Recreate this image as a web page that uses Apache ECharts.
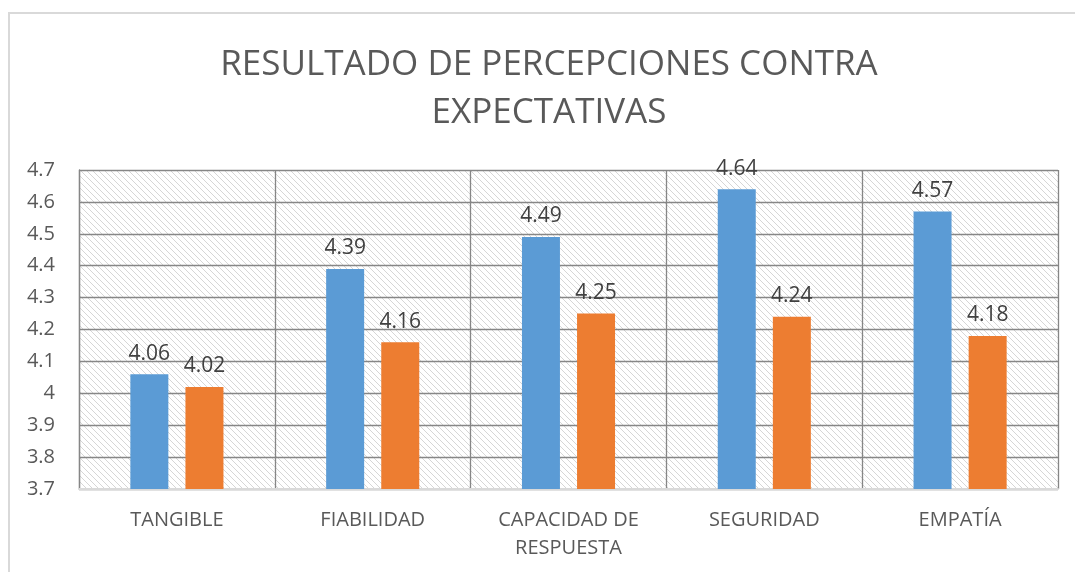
<!DOCTYPE html>
<html>
<head>
<meta charset="utf-8">
<script src="https://cdn.jsdelivr.net/npm/echarts@6/dist/echarts.min.js"></script>
<style>
  html, body { margin: 0; padding: 0; background: #fff; }
  #chart { width: 1075px; height: 572px; }
</style>
</head>
<body>
<div id="chart"></div>
<script>
  // datos
  var categorias = ['TANGIBLE', 'FIABILIDAD', 'CAPACIDAD DE\nRESPUESTA', 'SEGURIDAD', 'EMPATÍA'];
  var percepciones = [4.06, 4.39, 4.49, 4.64, 4.57];
  var expectativas = [4.02, 4.16, 4.25, 4.24, 4.18];
  var ejeY = [3.7, 3.8, 3.9, 4.0, 4.1, 4.2, 4.3, 4.4, 4.5, 4.6, 4.7];

  var fuente = '"Open Sans", "Noto Sans", sans-serif';

  // trama diagonal del fondo
  var trama = document.createElement('canvas');
  trama.width = 6; trama.height = 6;
  var ctx = trama.getContext('2d');
  ctx.fillStyle = '#ffffff';
  ctx.fillRect(0, 0, 6, 6);
  ctx.strokeStyle = '#d6d6d6';
  ctx.lineWidth = 1;
  ctx.beginPath();
  ctx.moveTo(-1, -1); ctx.lineTo(7, 7);
  ctx.moveTo(-1, 5); ctx.lineTo(1, 7);
  ctx.moveTo(5, -1); ctx.lineTo(7, 1);
  ctx.stroke();

  var myChart = echarts.init(document.getElementById('chart'));
  var etiqueta = {
    show: true,
    position: 'top',
    distance: 10,
    color: '#404040',
    fontSize: 21,
    fontFamily: fuente,
    formatter: function (p) { return p.value; }
  };
  var option = {
    backgroundColor: '#fff',
    animation: false,
    title: {
      text: 'RESULTADO DE PERCEPCIONES CONTRA\nEXPECTATIVAS',
      left: 544,
      top: 36,
      textAlign: 'center',
      textStyle: {
        color: '#595959',
        fontSize: 35,
        fontWeight: 'normal',
        fontFamily: fuente,
        lineHeight: 48
      }
    },
    graphic: [{
      type: 'rect',
      shape: { x: 9, y: 13, width: 1100, height: 600 },
      style: { fill: 'none', stroke: '#d9d9d9', lineWidth: 2 },
      silent: true
    }],
    grid: {
      left: 79,
      right: 17,
      top: 170,
      bottom: 83,
      show: true,
      backgroundColor: { image: trama, repeat: 'repeat' },
      borderColor: '#868686',
      borderWidth: 0
    },
    xAxis: {
      type: 'category',
      data: categorias,
      axisLine: { show: true, lineStyle: { color: '#d9d9d9', width: 2 } },
      axisTick: { show: false },
      splitLine: { show: true, lineStyle: { color: '#868686', width: 1.3 } },
      axisLabel: {
        color: '#595959',
        fontSize: 20,
        fontFamily: fuente,
        lineHeight: 28,
        margin: 17
      }
    },
    yAxis: {
      type: 'value',
      min: 3.7,
      max: 4.7,
      interval: 0.1,
      axisLine: { show: true, lineStyle: { color: '#868686', width: 1.3 } },
      axisTick: { show: false },
      splitLine: { show: true, lineStyle: { color: '#868686', width: 1.3 } },
      axisLabel: {
        color: '#595959',
        fontSize: 20,
        fontFamily: fuente,
        margin: 24,
        formatter: function (v) {
          var r = Math.round(v * 10) / 10;
          return ejeY.indexOf(r) >= 0 ? String(r) : '';
        }
      }
    },
    series: [{
      name: 'Percepciones',
      type: 'bar',
      data: percepciones,
      barWidth: 38,
      barGap: '45%',
      itemStyle: { color: '#5b9bd5' },
      label: etiqueta
    }, {
      name: 'Expectativas',
      type: 'bar',
      data: expectativas,
      barWidth: 38,
      itemStyle: { color: '#ed7d31' },
      label: etiqueta
    }]
  };
  myChart.setOption(option);
</script>
</body>
</html>
